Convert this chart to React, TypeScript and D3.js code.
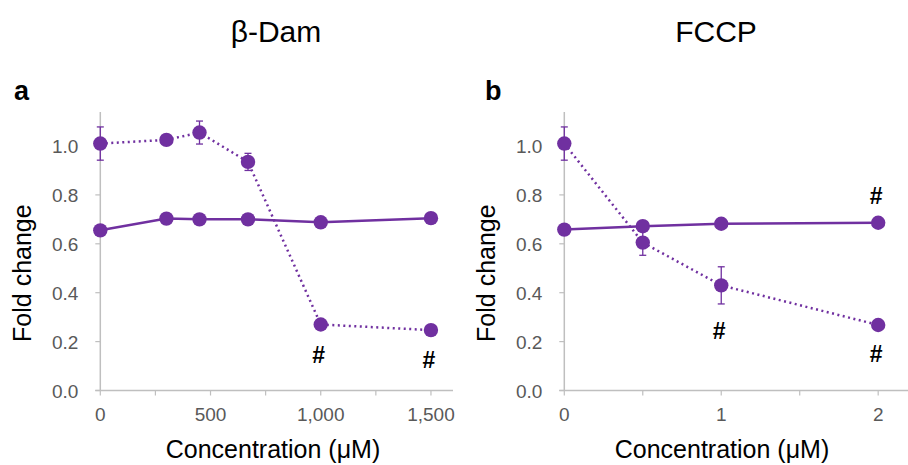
import React from 'react'
import * as d3 from 'd3'

const width = 908
const height = 465
const purple = '#7030A0'
const axisGrey = '#bfbfbf'
const labelGrey = '#595959'

// panel a: beta-Dam
const damConc = [0, 300, 450, 670, 1000, 1500]
const damDotted = [1.01, 1.025, 1.055, 0.935, 0.27, 0.247]
const damDottedErr = [0.068, 0.01, 0.047, 0.035, 0.015, 0.01]
const damSolid = [0.655, 0.703, 0.7, 0.7, 0.688, 0.705]
const damSolidErr = [0.01, 0.01, 0.01, 0.01, 0.02, 0.01]
const damTicks = [0, 500, 1000, 1500]
const damMinor = [250, 750, 1250]
const damHash = [1000, 1500]

// panel b: FCCP
const fccpConc = [0, 0.5, 1, 2]
const fccpDotted = [1.01, 0.605, 0.43, 0.268]
const fccpDottedErr = [0.068, 0.052, 0.076, 0.01]
const fccpSolid = [0.658, 0.672, 0.682, 0.686]
const fccpSolidErr = [0.01, 0.01, 0.01, 0.01]
const fccpTicks = [0, 1, 2]
const fccpMinor = [0.5, 1.5]
const fccpHashBelow = [1, 2]
const fccpHashAbove = [2]

const yTicks = [0, 0.2, 0.4, 0.6, 0.8, 1.0]

const yScale = d3.scaleLinear().domain([0, 1]).range([390.5, 146])
const yTop = 112

function Panel({ x, axisEnd, domainMax, conc, dotted, dottedErr, solid, solidErr,
  ticks, minor, fmt, title, titleX, labelX, letter, letterX, hashBelow, hashAbove }) {
  const xScale = d3.scaleLinear().domain([0, domainMax]).range([x, axisEnd])
  const line = d3.line().x((d) => xScale(d[0])).y((d) => yScale(d[1]))
  const dotPts = conc.map((c, i) => [c, dotted[i]])
  const solPts = conc.map((c, i) => [c, solid[i]])
  const y0 = yScale(0)

  const errBars = (vals, errs) =>
    conc.map((c, i) => (
      <g key={i} stroke={purple} strokeWidth={1.3}>
        <line x1={xScale(c)} x2={xScale(c)} y1={yScale(vals[i] + errs[i])} y2={yScale(vals[i] - errs[i])} />
        <line x1={xScale(c) - 3.5} x2={xScale(c) + 3.5} y1={yScale(vals[i] + errs[i])} y2={yScale(vals[i] + errs[i])} />
        <line x1={xScale(c) - 3.5} x2={xScale(c) + 3.5} y1={yScale(vals[i] - errs[i])} y2={yScale(vals[i] - errs[i])} />
      </g>
    ))

  return (
    <g>
      <text x={titleX} y={42} fontSize={30} textAnchor="middle" fill="#000">{title}</text>
      <text x={letterX} y={100} fontSize={27} fontWeight="bold" fill="#000">{letter}</text>
      {/* axes */}
      <line x1={x} x2={x} y1={yTop} y2={y0} stroke={axisGrey} strokeWidth={1.5} />
      <line x1={x - 5} x2={axisEnd} y1={y0} y2={y0} stroke={axisGrey} strokeWidth={1.5} />
      {yTicks.map((t) => (
        <g key={t}>
          <line x1={x - 5} x2={x} y1={yScale(t)} y2={yScale(t)} stroke={axisGrey} strokeWidth={1.2} />
          <text x={x - 22} y={yScale(t) + 7} fontSize={19} textAnchor="end" fill={labelGrey}>{t.toFixed(1)}</text>
        </g>
      ))}
      {ticks.concat(minor).map((t) => (
        <line key={'t' + t} x1={xScale(t)} x2={xScale(t)} y1={y0} y2={y0 + 5} stroke={axisGrey} strokeWidth={1.2} />
      ))}
      {ticks.map((t) => (
        <text key={'l' + t} x={xScale(t)} y={421} fontSize={19} textAnchor="middle" fill={labelGrey}>{fmt(t)}</text>
      ))}
      <text x={labelX} y={458} fontSize={25} textAnchor="middle" fill="#000">Concentration (μM)</text>
      <text transform={`translate(${x - 69},${yScale(0.48)}) rotate(-90)`} fontSize={25} textAnchor="middle" fill="#000">Fold change</text>
      {/* series */}
      {errBars(dotted, dottedErr)}
      {errBars(solid, solidErr)}
      <path d={line(dotPts)} fill="none" stroke={purple} strokeWidth={2.5} strokeDasharray="2 3.5" />
      <path d={line(solPts)} fill="none" stroke={purple} strokeWidth={2.5} />
      {dotPts.concat(solPts).map((d, i) => (
        <circle key={i} cx={xScale(d[0])} cy={yScale(d[1])} r={7.2} fill={purple} />
      ))}
      {hashBelow.map((h) => {
        const i = conc.indexOf(h)
        const yy = yScale(dotted[i] - dottedErr[i]) + 35
        return <text key={'hb' + h} x={xScale(h) - 2} y={yy} fontSize={23} fontWeight="bold" textAnchor="middle" fill="#000">#</text>
      })}
      {hashAbove.map((h) => {
        const i = conc.indexOf(h)
        const yy = yScale(solid[i]) - 19
        return <text key={'ha' + h} x={xScale(h) - 2} y={yy} fontSize={23} fontWeight="bold" textAnchor="middle" fill="#000">#</text>
      })}
    </g>
  )
}

export default function App() {
  const fmtDam = d3.format(',')
  return (
    <svg width={width} height={height} style={{ position: 'absolute', left: 0, top: 0, background: '#fff' }}
      fontFamily="'Liberation Sans', Arial, sans-serif">
      <Panel x={100.3} axisEnd={453} domainMax={1600} conc={damConc} dotted={damDotted}
        dottedErr={damDottedErr} solid={damSolid} solidErr={damSolidErr} ticks={damTicks}
        minor={damMinor} fmt={fmtDam} title="β-Dam" titleX={276} labelX={273} letter="a" letterX={14}
        hashBelow={damHash} hashAbove={[]} />
      <Panel x={564.3} axisEnd={908} domainMax={2.19} conc={fccpConc} dotted={fccpDotted}
        dottedErr={fccpDottedErr} solid={fccpSolid} solidErr={fccpSolidErr} ticks={fccpTicks}
        minor={fccpMinor} fmt={(d) => String(d)} title="FCCP" titleX={716} labelX={722} letter="b" letterX={485}
        hashBelow={fccpHashBelow} hashAbove={fccpHashAbove} />
    </svg>
  )
}
